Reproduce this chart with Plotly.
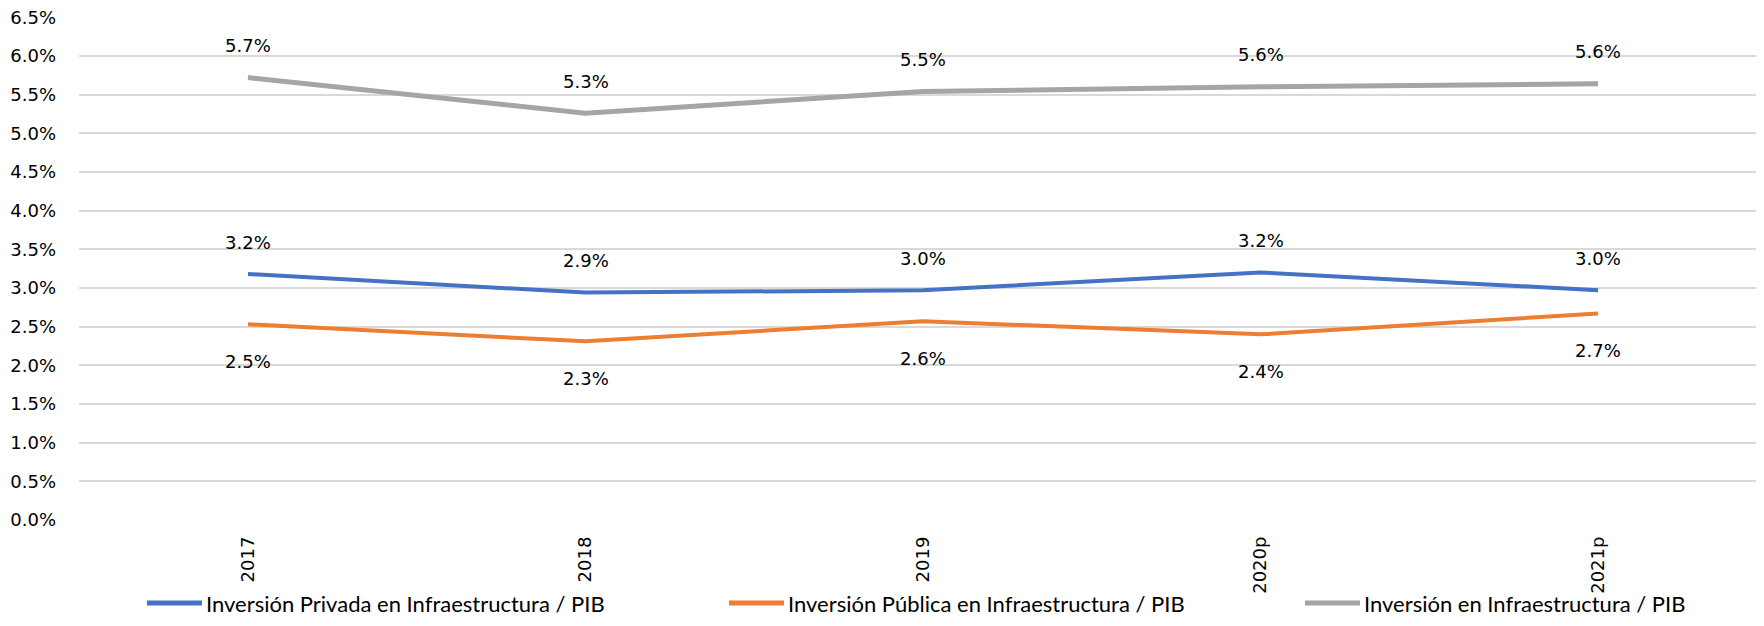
import plotly.graph_objects as go

categories = ["2017", "2018", "2019", "2020p", "2021p"]
privada = [3.18, 2.94, 2.97, 3.20, 2.97]
publica = [2.53, 2.31, 2.57, 2.40, 2.67]
total = [5.72, 5.26, 5.54, 5.60, 5.64]
y_ticks = [0.0, 0.5, 1.0, 1.5, 2.0, 2.5, 3.0, 3.5, 4.0, 4.5, 5.0, 5.5, 6.0, 6.5]

names = [
    "Inversión Privada en Infraestructura / PIB",
    "Inversión Pública en Infraestructura / PIB",
    "Inversión en Infraestructura / PIB",
]
colors = ["#4472C4", "#ED7D31", "#A5A5A5"]
series = [privada, publica, total]
label_shift = [32, -37, 32]
widths = [4, 4, 5]

# page has an 8px body margin: figure sized to fit exactly inside the window
W, H = 1748, 610
L, R, T, B = 71, 0, 9, 98
PW = W - L - R
PH = H - T - B

fig = go.Figure()
for s, n, c, w in zip(series, names, colors, widths):
    fig.add_trace(go.Scatter(x=list(range(len(categories))), y=s, mode="lines", name=n,
                             line=dict(color=c, width=w), hoverinfo="skip",
                             showlegend=False))

for s, sh in zip(series, label_shift):
    for i, v in enumerate(s):
        fig.add_annotation(x=i, y=v, xref="x", yref="y", text=f"{v:.1f}%",
                           showarrow=False, yshift=sh,
                           font=dict(family="DejaVu Sans", size=18, color="#000"))

# manual legend (paper coordinates, figure pixels)
legend_line_x = [139, 721, 1297]
leg_py = 595
leg_y = 1 - (leg_py - T) / PH
for lx, n, c in zip(legend_line_x, names, colors):
    x0 = (lx - L) / PW
    x1 = (lx + 55 - L) / PW
    fig.add_shape(type="line", xref="paper", yref="paper", x0=x0, x1=x1,
                  y0=leg_y, y1=leg_y, line=dict(color=c, width=5))
    fig.add_annotation(xref="paper", yref="paper", x=(lx + 58 - L) / PW, y=leg_y,
                       xanchor="left", yanchor="middle", text=n, showarrow=False,
                       borderpad=0,
                       font=dict(family="Lato", size=22, color="#000"))

fig.update_layout(
    width=W, height=H,
    margin=dict(l=L, r=R, t=T, b=B, autoexpand=False),
    plot_bgcolor="white", paper_bgcolor="white",
    font=dict(family="DejaVu Sans", size=18, color="#000"),
    showlegend=False,
)
fig.update_xaxes(range=[-0.5007, 4.468], tickmode="array",
                 tickvals=list(range(len(categories))), ticktext=categories,
                 tickangle=-90, showgrid=False, showline=False, zeroline=False,
                 ticks="", ticklabelstandoff=12, automargin=False,
                 tickfont=dict(family="DejaVu Sans", size=18))
fig.update_yaxes(range=[0, 6.503], tickmode="array", tickvals=y_ticks,
                 ticktext=[f"{t:.1f}%" for t in y_ticks],
                 showgrid=True, gridcolor="#D9D9D9", gridwidth=1.5, zeroline=False,
                 showline=False, ticks="", ticklabelstandoff=22, automargin=False,
                 ticklabeloverflow="allow",
                 tickfont=dict(family="DejaVu Sans", size=18))

fig.write_html("out.html")
